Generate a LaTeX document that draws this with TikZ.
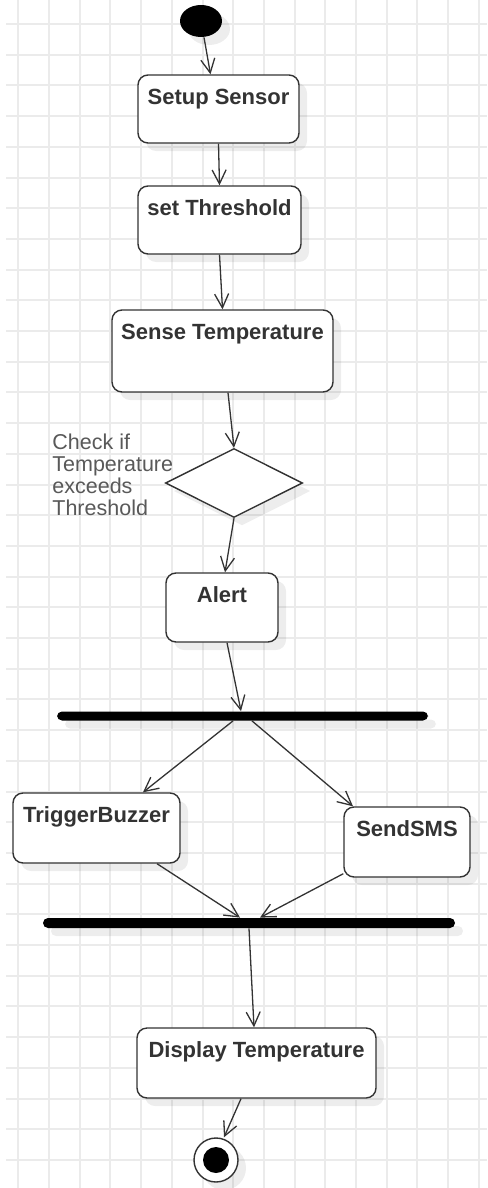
\documentclass[tikz,border=0pt]{standalone}
\usepackage{fontspec}
\setmainfont{Liberation Sans}
\usepackage{xcolor}
\usepackage{tikz}
\usetikzlibrary{shapes, shapes.geometric, calc, positioning, arrows.meta, shadows}
\definecolor{gridgray}{rgb}{0.92,0.92,0.92}
\definecolor{inkgray}{rgb}{0.2,0.2,0.2}

\begin{document}
\begin{tikzpicture}[x=0.5pt, y=-0.5pt,
	softshadow/.style={drop shadow={shadow xshift=4pt, shadow yshift=-4pt, opacity=0.07, fill=black}},
	action/.style={draw=inkgray, line width=0.7pt, fill=white, rounded corners=5pt, inner sep=0pt, text height=14.75pt, text=inkgray, font=\fontsize{11}{13}\selectfont\bfseries, softshadow},
	bar/.style={fill=black, rounded corners=2.5pt, inner sep=0pt, softshadow},
	flow/.style={draw=inkgray, line width=0.65pt, -{Straight Barb[length=7pt, width=7pt]}}]
	\useasboundingbox (0,0) rectangle (487,1188);
	\fill[white] (0,0) rectangle (487,1188);
	% background grid
	\foreach \k in {0,...,15}
		\draw[gridgray, line width=1pt] ({18.3+30.7*\k},0) -- ({18.3+30.7*\k},1188);
	\foreach \k in {0,...,37}
		\draw[gridgray, line width=1pt] (6,{24+30.7*\k}) -- (487,{24+30.7*\k});

	% states and actions
	\node[ellipse, fill=black, minimum width=21pt, minimum height=16pt, inner sep=0pt, softshadow] (start) at (201,21) {};
	\node[action, minimum width=80.5pt, text depth=19.25pt] (setup) at (218.5,109) {Setup Sensor};
	\node[action, minimum width=81.5pt, text depth=19.25pt] (threshold) at (219.5,220) {set Threshold};
	\node[action, minimum width=110.5pt, text depth=26.25pt] (sense) at (222.5,351) {Sense Temperature};
	\node[diamond, draw=inkgray, line width=0.7pt, fill=white, minimum width=68.5pt, minimum height=34.5pt, inner sep=0pt, softshadow] (check) at (234,483) {};
	\node[anchor=north west, align=left, inner sep=0pt, text=black!65, font=\fontsize{10.75}{11}\selectfont] (cond) at (52,434) {Check if\\Temperature\\exceeds\\Threshold};
	\node[action, minimum width=56pt, text depth=19.75pt] (alert) at (222,607.5) {Alert};
	\node[bar, minimum width=185.5pt, minimum height=4.5pt] (fork) at (242.5,716) {};
	\node[action, minimum width=83.5pt, text depth=20.25pt] (buzzer) at (96.5,828) {TriggerBuzzer};
	\node[action, minimum width=63pt, text depth=20.25pt] (sms) at (407,842) {SendSMS};
	\node[bar, minimum width=206pt, minimum height=5pt] (join) at (249,923) {};
	\node[action, minimum width=119.5pt, text depth=20.25pt] (display) at (256.5,1063) {Display Temperature};
	\node[circle, draw=inkgray, line width=0.7pt, fill=white, minimum size=22pt, inner sep=0pt, softshadow,
		path picture={\fill[black] (path picture bounding box.center) circle (6.5pt);}] (stop) at (216,1160) {};

	% transitions
	\draw[flow] ($(start.south)+(3,0)$) -- ($(setup.north)+(-8,0)$);
	\draw[flow] (setup.south) -- (threshold.north);
	\draw[flow] (threshold.south) -- (sense.north);
	\draw[flow] ($(sense.south)+(5.5,0)$) -- (check.north);
	\draw[flow] (check.south) -- ($(alert.north)+(3,0)$);
	\draw[flow] ($(alert.south)+(5,0)$) -- ($(fork.north)+(-1.5,0)$);
	\draw[flow] ($(fork.south)+(-9.5,0)$) -- ($(buzzer.north)+(46.5,0)$);
	\draw[flow] ($(fork.south)+(9.5,0)$) -- ($(sms.north)+(-54,0)$);
	\draw[flow] ($(buzzer.south)+(60.5,0)$) -- ($(join.north)+(-9,0)$);
	\draw[flow] ($(sms.south west)+(0,-4)$) -- ($(join.north)+(11,0)$);
	\draw[flow] (join.south) -- ($(display.north)+(-2.5,0)$);
	\draw[flow] ($(display.south)+(-15.5,0)$) -- ($(stop.north)+(8,0)$);
\end{tikzpicture}
\end{document}
